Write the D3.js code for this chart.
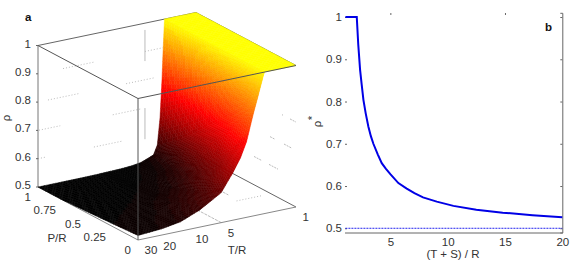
<!DOCTYPE html>
<html>
<head>
  <script src="https://d3js.org/d3.v7.min.js"></script>
  <style>
    html, body { margin: 0; padding: 0; background: #fff; }
    svg { display: block; }
    text { font-family: "Liberation Sans", Arial, sans-serif; font-size: 11.5px; fill: #333; }
    .panel { font-weight: bold; fill: #111; }
  </style>
</head>
<body>
  <svg width="573" height="264"></svg>
  <script>
    // panel a: rho over T/R (rows) and P/R (columns)
    var surfT = [1, 1.97, 2.03, 2.08, 2.17, 2.3, 2.5, 2.9, 3.3, 3.9, 5, 6.5, 8, 12, 18, 30];
    var surfP = [0, 0.25, 0.5, 0.75, 1];
    var surfRho = [
      [1, 1, 1, 1, 1],
      [1, 1, 1, 1, 1],
      [0.985, 0.96, 0.94, 0.915, 0.89],
      [0.97, 0.92, 0.88, 0.83, 0.787],
      [0.945, 0.87, 0.8, 0.73, 0.654],
      [0.91, 0.81, 0.72, 0.63, 0.56],
      [0.862, 0.75, 0.66, 0.58, 0.528],
      [0.767, 0.67, 0.6, 0.545, 0.518],
      [0.715, 0.63, 0.57, 0.53, 0.51],
      [0.667, 0.6, 0.55, 0.52, 0.506],
      [0.606, 0.565, 0.53, 0.512, 0.503],
      [0.58, 0.548, 0.52, 0.508, 0.502],
      [0.56, 0.535, 0.515, 0.505, 0.501],
      [0.533, 0.52, 0.51, 0.503, 0.5],
      [0.522, 0.514, 0.507, 0.502, 0.5],
      [0.516, 0.51, 0.505, 0.5, 0.5]
    ];
    var tickT = [30, 20, 10, 5, 1];
    var tickP = [1, 0.75, 0.5, 0.25, 0];
    var tickRhoA = [1, 0.9, 0.8, 0.7, 0.6, 0.5];

    // leftover grid pieces on the walls: [rho, T from, T to]
    var gridBackWall = [[0.9, 17.5, 8.8], [0.9, 3, 2.04], [0.8, 24.2, 12.4], [0.8, 4.5, 2.4],
      [0.7, 29.4, 18.6], [0.7, 6, 3.3], [0.6, 30, 25.9], [0.6, 9, 4.8]];
    // [rho, P from, P to]
    var gridSideWall = [[0.8, 0.06, 0], [0.8, 0.14, 0.13], [0.7, 0.26, 0.21], [0.7, 0.12, 0.04],
      [0.6, 0.42, 0.34], [0.6, 0.27, 0.18]];
    // [T, P from, P to]
    var gridFloorT = [[5, 0, 0.23], [2, 0.41, 0.355]];
    // [P, T from, T to]
    var gridFloorP = [[0.25, 2.1, 1.19]];
    // [T, rho from, rho to]
    var gridUprights = [[3, 0.976, 0.866], [3, 0.7, 0.59]];

    // panel b
    var curveX = [1.08, 2.07, 2.2, 2.36, 2.5, 2.65, 2.85, 3.08, 3.3, 3.52, 3.9, 4.25, 4.6, 5, 5.7, 6.43, 7.1, 7.85, 9.05, 10.5, 12.5, 14.8, 17.4, 20];
    var curveY = [1, 1, 0.935, 0.875, 0.84, 0.804, 0.772, 0.741, 0.718, 0.7, 0.675, 0.654, 0.641, 0.628, 0.607, 0.594, 0.583, 0.573, 0.563, 0.553, 0.544, 0.537, 0.531, 0.526];
    var tickXb = [5, 10, 15, 20];
    var tickYb = [1, 0.9, 0.8, 0.7, 0.6, 0.5];
    var refLine = [0.5];

    var svg = d3.select("svg");

    // ---- panel a: box projected by hand, parallel view
    var front = [138, 240], alongT = [158, -33], alongP = [-100, -53];
    var fT = d3.scaleLog().domain([30, 1]).range([0, 1]);
    var fZ = d3.scaleLinear().domain([0.5, 1]).range([0, 141.5]);
    function proj(T, P, rho) {
      var f = fT(T);
      return [front[0] + alongT[0] * f + alongP[0] * P,
              front[1] + alongT[1] * f + alongP[1] * P - fZ(rho)];
    }
    function seg(g, a, b, color, width, dash) {
      g.append("line")
        .attr("x1", a[0]).attr("y1", a[1])
        .attr("x2", b[0]).attr("y2", b[1])
        .attr("stroke", color).attr("stroke-width", width)
        .attr("stroke-dasharray", dash || null);
    }

    var a = svg.append("g");

    // dotted bits of the grid sit behind the surface
    var gridCol = "#bbb";
    gridBackWall.forEach(function(d) { seg(a, proj(d[1], 1, d[0]), proj(d[2], 1, d[0]), gridCol, 1, "1 2"); });
    gridSideWall.forEach(function(d) { seg(a, proj(1, d[1], d[0]), proj(1, d[2], d[0]), gridCol, 1, "2 1"); });
    gridFloorT.forEach(function(d) { seg(a, proj(d[0], d[1], 0.5), proj(d[0], d[2], 0.5), gridCol, 1, "3 1"); });
    gridFloorP.forEach(function(d) { seg(a, proj(d[1], d[0], 0.5), proj(d[2], d[0], 0.5), gridCol, 1, "1 2"); });
    gridUprights.forEach(function(d) { seg(a, proj(d[0], 1, d[1]), proj(d[0], 1, d[2]), "#bbb", 1); });

    // back and floor edges
    seg(a, proj(1, 1, 0.5), proj(1, 0, 0.5), "#666", 1);
    seg(a, proj(30, 1, 1), proj(1, 1, 1), "#666", 1);
    seg(a, proj(1, 1, 1), proj(1, 0, 1), "#666", 1);
    seg(a, proj(30, 0, 0.5), proj(1, 0, 0.5), "#888", 1);
    seg(a, proj(30, 1, 0.5), proj(30, 0, 0.5), "#888", 1);
    seg(a, proj(30, 1, 1), proj(30, 1, 0.5), "#777", 1);

    // hot colormap, 64 steps from black, yellow reached at rho = 1
    var hot = d3.range(64).map(function(i) {
      var v = i / 64;
      var r = Math.min(1, v / 0.375);
      var g = Math.max(0, Math.min(1, (v - 0.375) / 0.375));
      var b = Math.max(0, Math.min(1, (v - 0.75) / 0.25));
      return d3.rgb(r * 255, g * 255, b * 255).formatHex();
    });
    var colour = d3.scaleQuantize().domain([0.5, 0.5 + 0.5 * 64 / 48]).range(hot);

    // surface: each T row read through a scale along P, rows mixed along log T
    var rowsAt = surfT.map(function(t, i) {
      return d3.scaleLinear().domain(surfP).range(surfRho[i]);
    });
    var fineT = [];
    surfT.forEach(function(t, i) {
      if (i === surfT.length - 1) { fineT.push(t); return; }
      var step = d3.scaleLog().domain([t, surfT[i + 1]]).range([0, 1]);
      d3.range(8).forEach(function(k) { fineT.push(step.invert(k / 8)); });
    });
    var fineP = d3.range(1, -0.0001, -1 / 40); // back to front
    var logT = d3.scaleLog().domain(surfT).range(surfT.map(function(t, i) { return i; }));
    function rhoAt(T, P) {
      var u = logT(T), i = Math.min(surfT.length - 2, Math.floor(u + 1e-9)), w = u - i;
      return rowsAt[i](P) * (1 - w) + rowsAt[i + 1](P) * w;
    }
    var surf = a.append("g");
    fineP.slice(0, -1).forEach(function(p0, pi) {
      var p1 = fineP[pi + 1];
      fineT.slice(0, -1).forEach(function(t0, ti) {
        var t1 = fineT[ti + 1];
        var r00 = rhoAt(t0, p0), r10 = rhoAt(t1, p0), r01 = rhoAt(t0, p1), r11 = rhoAt(t1, p1);
        var pts = [proj(t0, p0, r00), proj(t1, p0, r10), proj(t1, p1, r11), proj(t0, p1, r01)];
        var c = colour((r00 + r10 + r01 + r11) / 4);
        surf.append("path")
          .attr("d", d3.line()(pts) + "Z")
          .attr("fill", c).attr("stroke", c).attr("stroke-width", 0.5);
      });
    });

    // front edges go over the surface
    seg(a, proj(30, 1, 1), proj(30, 0, 1), "#555", 1);
    seg(a, proj(30, 0, 1), proj(1, 0, 1), "#555", 1);
    seg(a, proj(30, 0, 1), proj(30, 0, 0.5), "#555", 1);

    // ticks + labels
    tickRhoA.forEach(function(r) {
      var p = proj(30, 1, r);
      seg(a, [p[0] - 2, p[1]], p, "#666", 1);
      a.append("text").attr("x", p[0] - 7).attr("y", p[1] + 2).attr("text-anchor", "end").text(r);
    });
    tickP.forEach(function(v) {
      var p = proj(30, v, 0.5);
      a.append("text").attr("x", p[0] - 7).attr("y", p[1] + 14).attr("text-anchor", "end").text(v);
    });
    tickT.forEach(function(v) {
      var p = proj(v, 0, 0.5);
      a.append("text").attr("x", p[0] + 6.5).attr("y", p[1] + 14).text(v);
    });
    a.append("text").attr("x", 57).attr("y", 242).attr("text-anchor", "middle").text("P/R");
    a.append("text").attr("x", 237).attr("y", 254).attr("text-anchor", "middle").text("T/R");
    a.append("text").attr("transform", "translate(10,118) rotate(-90)").attr("text-anchor", "middle").text("\u03c1");
    a.append("text").attr("class", "panel").attr("x", 25).attr("y", 21).text("a");

    // ---- panel b
    var x = d3.scaleLinear().domain([1, 20]).range([344.5, 562.3]);
    var y = d3.scaleLinear().domain([0.49, 1.01]).range([232.5, 12.8]);
    var b = svg.append("g");

    var gx = b.append("g").attr("transform", "translate(0,232.5)")
      .call(d3.axisBottom(x).tickValues(tickXb).tickSize(0).tickPadding(5));
    gx.select(".domain").attr("stroke", "#666");
    var gr = b.append("g").attr("transform", "translate(562.3,0)")
      .call(d3.axisRight(y).tickValues(tickYb).tickSize(-2).tickFormat(""));
    gr.select(".domain").attr("stroke", "#666");
    gr.selectAll("line").attr("stroke", "#666");
    var gl = b.append("g").attr("transform", "translate(345,0)")
      .call(d3.axisLeft(y).tickValues(tickYb).tickSize(-2).tickPadding(3).tickFormat(function(d) { return d; }));
    gl.select(".domain").remove();
    gl.selectAll("line").attr("stroke", "#666");
    var gt = b.append("g").attr("transform", "translate(0,13)")
      .call(d3.axisTop(x).tickValues([5, 15]).tickSize(-2).tickFormat(""));
    gt.select(".domain").remove();
    gt.selectAll("line").attr("stroke", "#666");
    b.selectAll("g text").style("font-family", "\"Liberation Sans\", Arial, sans-serif").style("font-size", "11.5px").attr("fill", "#333");

    b.selectAll(".ref").data(refLine).enter().append("line")
      .attr("class", "ref")
      .attr("x1", x(1.08)).attr("x2", x(20))
      .attr("y1", function(d) { return y(d); }).attr("y2", function(d) { return y(d); })
      .attr("stroke", "#2222ee").attr("stroke-width", 1).attr("stroke-dasharray", "2 1");

    var line = d3.line()
      .x(function(d) { return x(d); })
      .y(function(d, i) { return y(curveY[i]); });
    b.append("path").datum(curveX).attr("d", line)
      .attr("fill", "none").attr("stroke", "#0000e6").attr("stroke-width", 2);

    b.append("text").attr("x", 453).attr("y", 258).attr("text-anchor", "middle").text("(T + S) / R");
    b.append("text").attr("transform", "translate(321,124) rotate(-90)").attr("text-anchor", "middle").text("\u03c1");
    b.append("text").attr("transform", "translate(316,118) rotate(-90)").attr("text-anchor", "middle").text("*");
    b.append("text").attr("class", "panel").attr("x", 545).attr("y", 31).text("b");
  </script>
</body>
</html>
